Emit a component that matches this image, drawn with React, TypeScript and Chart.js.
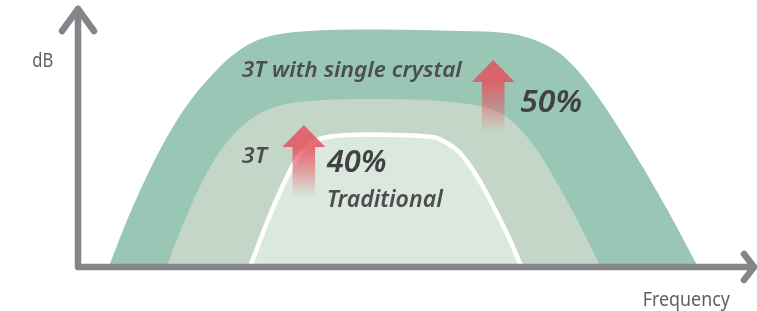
import React, { useEffect, useRef } from "react";
import { Chart, registerables } from "chart.js";

Chart.register(...registerables);

// Frequency (arbitrary units 0-100) and dB (arbitrary units 0-100)
const freqSingleCrystal = [4.53, 7.42, 9.94, 12.46, 14.84, 17.36, 19.88, 22.26, 24.78, 27.3, 32.2, 44.81, 56.68, 64.09, 68.99, 71.51, 74.04, 76.41, 78.93, 81.45, 83.83, 86.35, 88.87, 91.99];
const dbSingleCrystal = [0, 18.92, 33.59, 46.72, 57.34, 66.6, 74.13, 80.31, 85.14, 88.22, 90.73, 91.7, 91.12, 90.15, 86.33, 82.39, 76.14, 68.42, 58.88, 48.57, 38.38, 27.1, 15.29, 0];

const freq3T = [13.12, 15.88, 18.4, 20.77, 23.29, 25.82, 28.19, 32.2, 44.81, 56.68, 61.57, 64.09, 66.62, 68.99, 71.51, 74.04, 76.41, 77.52];
const db3T = [0, 18.3, 32.74, 43.55, 51.78, 57.37, 60.77, 63.51, 64.86, 63.32, 60.77, 56.83, 50.27, 41.62, 30.46, 18.3, 5.95, 0];

const freqTraditional = [25.52, 28.19, 30.27, 32.2, 33.38, 36.35, 42.88, 52.67, 54.75, 56.68, 59.2, 61.57, 64.09, 65.8];
const dbTraditional = [0, 18.07, 30.77, 40.81, 44.83, 49.81, 51.16, 50.19, 47.88, 44.02, 34.94, 23.75, 10.42, 0];

// Annotation texts with anchor (freq, dB) in data units
const labelTexts = ["3T with single crystal", "3T", "40%", "Traditional", "50%", "dB", "Frequency"];
const labelFreq = [24.3, 24.3, 36.9, 36.9, 65.6, -6.8, 83.8];
const labelDb = [73.2, 40.2, 36.5, 23.0, 59.7, 77.2, -15.1];

// Improvement arrows: centre freq, tip dB, head-base dB, tail dB
const arrowFreq = [33.5, 61.6];
const arrowTipDb = [54.8, 79.9];
const arrowHeadDb = [46.3, 71.4];
const arrowTailDb = [27.0, 52.1];

const toPoints = (xs: number[], ys: number[]) => xs.map((x, i) => ({ x, y: ys[i] }));

export default function App() {
  const ref = useRef<HTMLCanvasElement | null>(null);

  useEffect(() => {
    const canvas = ref.current;
    if (!canvas) return;

    const labelStyles = [
      { font: "italic 600 22px 'Noto Sans'", color: "#4d4d4f", width: 220 },
      { font: "italic 600 22px 'Noto Sans'", color: "#4d4d4f", width: 25 },
      { font: "italic 600 31px 'Noto Sans'", color: "#414143", width: 60 },
      { font: "italic 600 23px 'Noto Sans'", color: "#4d4d4f", width: 116 },
      { font: "italic 600 31px 'Noto Sans'", color: "#414143", width: 62 },
      { font: "400 19px 'Noto Sans'", color: "#5f6063", width: 21 },
      { font: "400 19px 'Noto Sans'", color: "#5f6063", width: 87 },
    ];

    const decor = {
      id: "decor",
      afterDatasetsDraw(chart: any) {
        const ctx = chart.ctx as CanvasRenderingContext2D;
        const xs = chart.scales.x;
        const ys = chart.scales.y;
        // red arrows
        for (let i = 0; i < arrowFreq.length; i++) {
          const cx = xs.getPixelForValue(arrowFreq[i]);
          const tip = ys.getPixelForValue(arrowTipDb[i]);
          const head = ys.getPixelForValue(arrowHeadDb[i]);
          const tail = ys.getPixelForValue(arrowTailDb[i]);
          const hw = 21.5;
          const sw = 11.3;
          ctx.save();
          ctx.fillStyle = "rgba(228,84,95,0.85)";
          ctx.beginPath();
          ctx.moveTo(cx, tip);
          ctx.lineTo(cx + hw, head);
          ctx.lineTo(cx - hw, head);
          ctx.closePath();
          ctx.fill();
          const g = ctx.createLinearGradient(0, head, 0, tail);
          g.addColorStop(0, "rgba(228,84,95,0.85)");
          g.addColorStop(0.35, "rgba(228,84,95,0.6)");
          g.addColorStop(1, "rgba(228,84,95,0)");
          ctx.fillStyle = g;
          ctx.fillRect(cx - sw, head - 0.5, sw * 2, tail - head + 0.5);
          ctx.restore();
        }
        // axes with arrow heads
        const x0 = xs.getPixelForValue(0);
        const y0 = ys.getPixelForValue(0);
        const yTop = chart.chartArea.top;
        const xEnd = chart.chartArea.right;
        ctx.save();
        ctx.strokeStyle = "#848589";
        ctx.lineWidth = 6.5;
        ctx.lineCap = "round";
        ctx.lineJoin = "round";
        ctx.beginPath();
        ctx.moveTo(x0, yTop + 1);
        ctx.lineTo(x0, y0);
        ctx.lineTo(xEnd + 2, y0);
        ctx.stroke();
        ctx.beginPath();
        ctx.moveTo(x0 - 16, yTop + 23);
        ctx.lineTo(x0, yTop + 1);
        ctx.lineTo(x0 + 16, yTop + 23);
        ctx.stroke();
        ctx.beginPath();
        ctx.moveTo(xEnd - 8, y0 - 13);
        ctx.lineTo(xEnd + 2, y0);
        ctx.lineTo(xEnd - 8, y0 + 13);
        ctx.stroke();
        ctx.restore();
      },
      afterDraw(chart: any) {
        const ctx = chart.ctx as CanvasRenderingContext2D;
        const xs = chart.scales.x;
        const ys = chart.scales.y;
        for (let i = 0; i < labelTexts.length; i++) {
          const st = labelStyles[i];
          const px = xs.getPixelForValue(labelFreq[i]);
          const py = ys.getPixelForValue(labelDb[i]);
          ctx.save();
          ctx.font = st.font;
          ctx.fillStyle = st.color;
          ctx.textBaseline = "alphabetic";
          ctx.textAlign = "left";
          const w = ctx.measureText(labelTexts[i]).width;
          const s = st.width / w;
          ctx.translate(px, py);
          ctx.scale(s, 1);
          ctx.fillText(labelTexts[i], 0, 0);
          ctx.restore();
        }
      },
    };

    const chart = new Chart(canvas, {
      type: "line",
      data: {
        datasets: [
          {
            label: "Traditional",
            data: toPoints(freqTraditional, dbTraditional),
            backgroundColor: "rgb(218,232,221)",
            borderColor: "#ffffff",
            borderWidth: 4.5,
            fill: "origin",
            order: 1,
          },
          {
            label: "3T",
            data: toPoints(freq3T, db3T),
            backgroundColor: "rgb(196,214,200)",
            borderColor: "rgba(0,0,0,0)",
            borderWidth: 0,
            fill: "origin",
            order: 2,
          },
          {
            label: "3T with single crystal",
            data: toPoints(freqSingleCrystal, dbSingleCrystal),
            backgroundColor: "rgb(154,198,182)",
            borderColor: "rgba(0,0,0,0)",
            borderWidth: 0,
            fill: "origin",
            order: 3,
          },
        ],
      },
      options: {
        animation: false,
        responsive: false,
        devicePixelRatio: 1,
        layout: { padding: { left: 78, right: 5, top: 8, bottom: 44 } },
        elements: {
          point: { radius: 0, hoverRadius: 0 },
          line: { cubicInterpolationMode: "monotone" },
        },
        scales: {
          x: { type: "linear", min: 0, max: 100, display: false },
          y: { type: "linear", min: 0, max: 100, display: false },
        },
        plugins: {
          legend: { display: false },
          tooltip: { enabled: false },
          filler: { propagate: false },
        },
      } as any,
      plugins: [decor],
    });
    return () => chart.destroy();
  }, []);

  return (
    <div style={{ position: "fixed", left: 0, top: 0, width: 757, height: 311, background: "#ffffff" }}>
      <canvas ref={ref} width={757} height={311} style={{ display: "block", width: 757, height: 311 }} />
    </div>
  );
}
